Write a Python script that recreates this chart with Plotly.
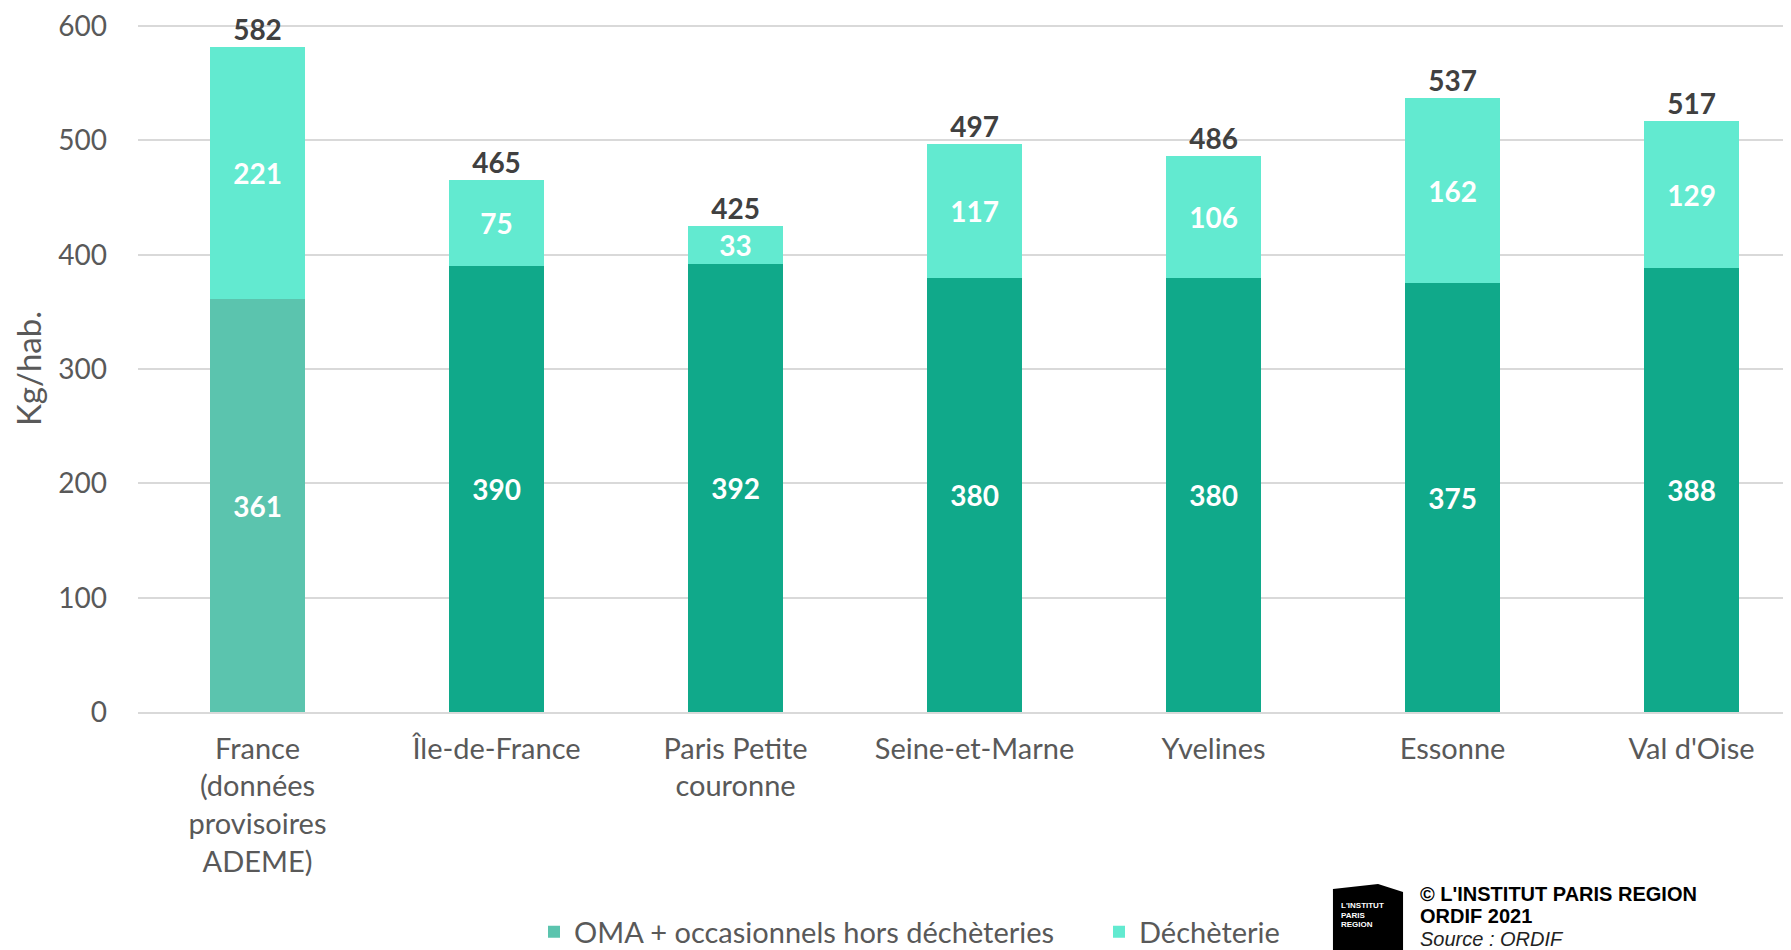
import plotly.graph_objects as go

categories = ["France<br>(données<br>provisoires<br>ADEME)", "Île-de-France", "Paris Petite<br>couronne",
              "Seine-et-Marne", "Yvelines", "Essonne", "Val d'Oise"]
oma = [361, 390, 392, 380, 380, 375, 388]
decheterie = [221, 75, 33, 117, 106, 162, 129]
totals = [582, 465, 425, 497, 486, 537, 517]
y_ticks = [0, 100, 200, 300, 400, 500, 600]

FONT = "Lato"
GRAY = "#595959"
oma_colors = ["#5BC4AE"] + ["#10A98A"] * (len(categories) - 1)

# page body has an 8px default margin: figure is shifted by OFF px
OFF = 8
W0, H0 = 1791 - OFF, 950 - OFF
L, T, B = 138 - OFF, 25 - OFF, 238
pw, ph = W0 - L, H0 - T - B


def px_x(x):  # screen px -> paper
    return (x - OFF - L) / pw


def px_y(y):
    return (H0 - B - (y - OFF)) / ph


fig = go.Figure()
fig.add_trace(go.Bar(
    x=categories, y=oma, name="OMA + occasionnels hors déchèteries",
    marker=dict(color=oma_colors, line=dict(width=0)),
    text=[str(v) for v in oma], textposition="inside", insidetextanchor="middle",
    textangle=0, constraintext="none",
    textfont=dict(family=FONT, size=28, color="white", weight="bold"),
    width=0.4,
))
fig.add_trace(go.Bar(
    x=categories, y=decheterie, name="Déchèterie",
    marker=dict(color="#62EAD0", line=dict(width=0)),
    text=[str(v) for v in decheterie], textposition="inside", insidetextanchor="middle",
    textangle=0, constraintext="none",
    textfont=dict(family=FONT, size=28, color="white", weight="bold"),
    width=0.4,
))
fig.add_trace(go.Scatter(
    x=categories, y=totals, mode="text", text=[str(v) for v in totals],
    textposition="top center", showlegend=False,
    textfont=dict(family=FONT, size=28, color="#404040", weight="bold"),
    cliponaxis=False,
))

fig.update_layout(
    barmode="stack",
    width=W0, height=H0,
    paper_bgcolor="white", plot_bgcolor="white",
    margin=dict(l=L, r=0, t=T, b=B, autoexpand=False),
    font=dict(family=FONT, size=28, color=GRAY),
    legend=dict(orientation="h", x=px_x(534), xanchor="left", y=px_y(932), yanchor="middle",
                font=dict(family=FONT, size=29, color=GRAY), entrywidth=520, itemwidth=30,
                bgcolor="rgba(0,0,0,0)", itemclick=False, traceorder="normal"),
    showlegend=True,
)
fig.update_yaxes(
    range=[0, 601], tickvals=y_ticks, showgrid=True, gridcolor="#D9D9D9", gridwidth=1.5,
    zeroline=False, showline=False, ticks="", ticklabelstandoff=30, automargin=False,
    ticklabeloverflow="allow",
    tickfont=dict(family=FONT, size=28, color=GRAY),
    title=dict(text="Kg/hab.", font=dict(family=FONT, size=33, color=GRAY), standoff=12),
)
fig.update_xaxes(
    range=[-0.5, 6.416], showgrid=False, showline=True, linecolor="#D9D9D9", linewidth=1.5,
    ticks="", tickfont=dict(family=FONT, size=29, color=GRAY), ticklabelstandoff=10,
    automargin=False,
)

# Logo block (decorative)
pts = [(1333, 889), (1378, 884), (1403, 892), (1403, 952), (1333, 952)]
path = "M " + " L ".join(f"{px_x(a):.4f} {px_y(b):.4f}" for a, b in pts) + " Z"
fig.add_shape(type="path", xref="paper", yref="paper", path=path,
              fillcolor="black", line=dict(width=0), layer="above")
for txt, yy in [("L'INSTITUT", 905), ("PARIS", 915), ("REGION", 924)]:
    fig.add_annotation(x=px_x(1339), y=px_y(yy), xref="paper", yref="paper", text=txt, showarrow=False,
                       font=dict(family="Liberation Sans", size=8, color="white", weight="bold"),
                       xanchor="left", yanchor="middle")
for txt, yy in [("© L'INSTITUT PARIS REGION", 894), ("ORDIF 2021", 916)]:
    fig.add_annotation(x=px_x(1418), y=px_y(yy), text=txt, showarrow=False,
                       font=dict(family="Liberation Sans", size=20, color="black", weight="bold"),
                       xref="paper", yref="paper", xanchor="left", yanchor="middle")
fig.add_annotation(x=px_x(1418), y=px_y(939), text="<i>Source : ORDIF</i>", showarrow=False,
                   font=dict(family="Liberation Sans", size=20, color="#222222"),
                   xref="paper", yref="paper", xanchor="left", yanchor="middle")

fig.write_html("out.html")
